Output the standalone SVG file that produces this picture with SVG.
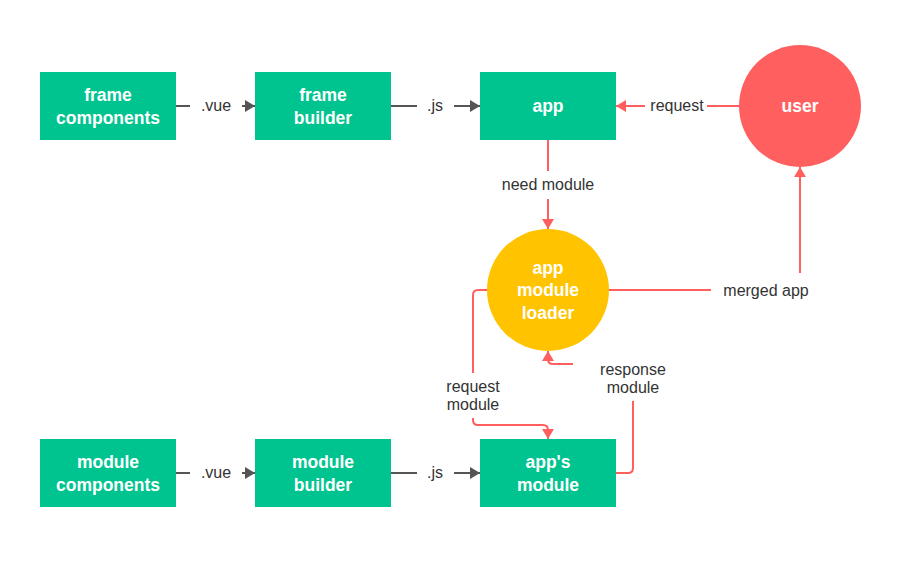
<svg xmlns="http://www.w3.org/2000/svg" width="911" height="571" viewBox="0 0 911 571">
<style>
.box{fill:#00C48F}
.nt{font-family:"Liberation Sans",Arial,sans-serif;font-size:17.5px;font-weight:bold;fill:#fff;text-anchor:middle}
.lt{font-family:"Liberation Sans",Arial,sans-serif;font-size:16px;fill:#333;text-anchor:middle}
.g{stroke:#555;stroke-width:2;fill:none}
.r{stroke:#FF5F5F;stroke-width:2;fill:none}
</style>
<defs>
<marker id="ag" markerUnits="userSpaceOnUse" markerWidth="10" markerHeight="12" refX="10" refY="6" orient="auto"><path d="M0,0 L10,6 L0,12 z" fill="#555"/></marker>
<marker id="ar" markerUnits="userSpaceOnUse" markerWidth="10" markerHeight="12" refX="10" refY="6" orient="auto"><path d="M0,0 L10,6 L0,12 z" fill="#FF5F5F"/></marker>
</defs>
<rect width="911" height="571" fill="#fff"/>
<g id="connectors">
<path class="g" d="M176,106 H190"/><path class="g" d="M242,106 H255" marker-end="url(#ag)"/>
<path class="g" d="M391,106 H417"/><path class="g" d="M454,106 H480" marker-end="url(#ag)"/>
<path class="g" d="M176,473 H190"/><path class="g" d="M242,473 H255" marker-end="url(#ag)"/>
<path class="g" d="M391,473 H417"/><path class="g" d="M454,473 H480" marker-end="url(#ag)"/>
<path class="r" d="M739,106 H707"/><path class="r" d="M645,106 H616" marker-end="url(#ar)"/>
<path class="r" d="M548,140 V171"/><path class="r" d="M548,199 V229" marker-end="url(#ar)"/>
<path class="r" d="M609,290 H711"/><path class="r" d="M800,273 V167" marker-end="url(#ar)"/>
<path class="r" d="M488,290 H478 Q473,290 473,295 V373"/><path class="r" d="M473,418 V420 Q473,425 478,425 H543 Q548,425 548,430 V439" marker-end="url(#ar)"/>
<path class="r" d="M616,473 H628 Q633,473 633,468 V401"/><path class="r" d="M573,364 H553 Q548,364 548,359 V351" marker-end="url(#ar)"/>
<text class="lt" x="216" y="111">.vue</text>
<text class="lt" x="435" y="111">.js</text>
<text class="lt" x="216" y="478">.vue</text>
<text class="lt" x="435" y="478">.js</text>
<text class="lt" x="677" y="111">request</text>
<text class="lt" x="548" y="190">need module</text>
<text class="lt" x="766" y="296">merged app</text>
<text class="lt" x="473" y="392">request</text>
<text class="lt" x="473" y="410">module</text>
<text class="lt" x="633" y="375">response</text>
<text class="lt" x="633" y="393">module</text>
</g>
<g id="frame-components"><rect class="box" x="40" y="72" width="136" height="68"/><text class="nt" x="108" y="101">frame</text><text class="nt" x="108" y="124">components</text></g>
<g id="frame-builder"><rect class="box" x="255" y="72" width="136" height="68"/><text class="nt" x="323" y="101">frame</text><text class="nt" x="323" y="124">builder</text></g>
<g id="app"><rect class="box" x="480" y="72" width="136" height="68"/><text class="nt" x="548" y="112">app</text></g>
<g id="user"><circle cx="800" cy="106" r="61" fill="#FF5F5F"/><text class="nt" x="800" y="112">user</text></g>
<g id="app-module-loader"><circle cx="548" cy="290" r="61" fill="#FFC300"/><text class="nt" x="548" y="274">app</text><text class="nt" x="548" y="296">module</text><text class="nt" x="548" y="319">loader</text></g>
<g id="module-components"><rect class="box" x="40" y="439" width="136" height="68"/><text class="nt" x="108" y="468">module</text><text class="nt" x="108" y="491">components</text></g>
<g id="module-builder"><rect class="box" x="255" y="439" width="136" height="68"/><text class="nt" x="323" y="468">module</text><text class="nt" x="323" y="491">builder</text></g>
<g id="apps-module"><rect class="box" x="480" y="439" width="136" height="68"/><text class="nt" x="548" y="468">app's</text><text class="nt" x="548" y="491">module</text></g>
</svg>
